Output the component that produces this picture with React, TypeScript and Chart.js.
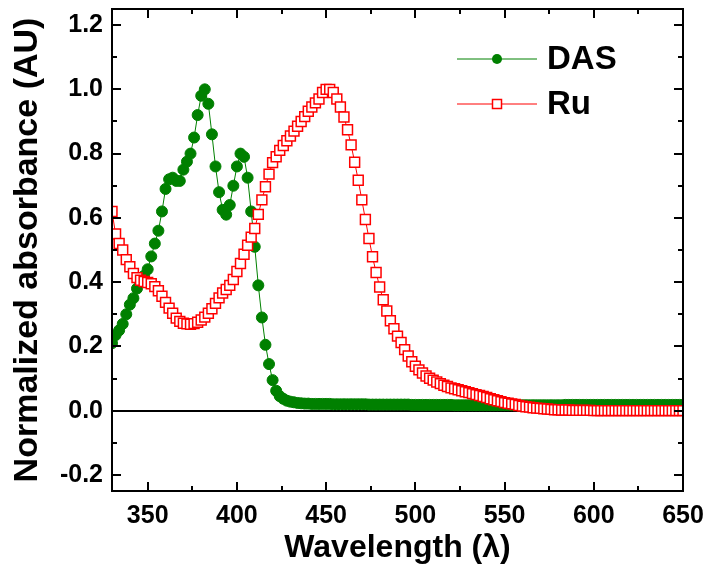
import React, { useEffect, useRef } from "react";
import { Chart, registerables } from "chart.js";

Chart.register(...registerables);

// ---- data ----
const wavelengths = [
  330, 332, 334, 336, 338, 340, 342, 344, 346, 348,
  350, 352, 354, 356, 358, 360, 362, 364, 366, 368,
  370, 372, 374, 376, 378, 380, 382, 384, 386, 388,
  390, 392, 394, 396, 398, 400, 402, 404, 406, 408,
  410, 412, 414, 416, 418, 420, 422, 424, 426, 428,
  430, 432, 434, 436, 438, 440, 442, 444, 446, 448,
  450, 452, 454, 456, 458, 460, 462, 464, 466, 468,
  470, 472, 474, 476, 478, 480, 482, 484, 486, 488,
  490, 492, 494, 496, 498, 500, 502, 504, 506, 508,
  510, 512, 514, 516, 518, 520, 522, 524, 526, 528,
  530, 532, 534, 536, 538, 540, 542, 544, 546, 548,
  550, 552, 554, 556, 558, 560, 562, 564, 566, 568,
  570, 572, 574, 576, 578, 580, 582, 584, 586, 588,
  590, 592, 594, 596, 598, 600, 602, 604, 606, 608,
  610, 612, 614, 616, 618, 620, 622, 624, 626, 628,
  630, 632, 634, 636, 638, 640, 642, 644, 646, 648,
  650,
];

const dasValues = [
  0.21, 0.235, 0.25, 0.27, 0.3, 0.33, 0.35, 0.38, 0.4, 0.42,
  0.44, 0.48, 0.52, 0.56, 0.62, 0.69, 0.72, 0.725, 0.715, 0.715,
  0.75, 0.775, 0.8, 0.85, 0.92, 0.98, 1.0, 0.955, 0.86, 0.76,
  0.68, 0.625, 0.61, 0.64, 0.7, 0.76, 0.8, 0.79, 0.725, 0.62,
  0.51, 0.39, 0.29, 0.205, 0.145, 0.095, 0.062, 0.045, 0.037, 0.031,
  0.028, 0.026, 0.024, 0.023, 0.022, 0.022, 0.021, 0.021, 0.021, 0.021,
  0.021, 0.021, 0.02, 0.02, 0.02, 0.02, 0.02, 0.02, 0.02, 0.02,
  0.02, 0.02, 0.019, 0.019, 0.019, 0.019, 0.019, 0.019, 0.019, 0.019,
  0.019, 0.019, 0.019, 0.019, 0.018, 0.018, 0.018, 0.018, 0.018, 0.018,
  0.018, 0.018, 0.018, 0.018, 0.018, 0.018, 0.017, 0.017, 0.017, 0.017,
  0.017, 0.017, 0.017, 0.017, 0.017, 0.017, 0.017, 0.017, 0.017, 0.017,
  0.017, 0.017, 0.017, 0.017, 0.017, 0.017, 0.017, 0.017, 0.017, 0.017,
  0.017, 0.017, 0.017, 0.017, 0.017, 0.017, 0.017, 0.018, 0.018, 0.018,
  0.018, 0.018, 0.018, 0.018, 0.018, 0.018, 0.018, 0.018, 0.018, 0.018,
  0.018, 0.018, 0.018, 0.018, 0.018, 0.018, 0.018, 0.018, 0.018, 0.018,
  0.018, 0.018, 0.018, 0.018, 0.018, 0.018, 0.018, 0.018, 0.018, 0.018,
  0.018,
];

const ruValues = [
  0.62, 0.55, 0.52, 0.5, 0.47, 0.448, 0.427, 0.414, 0.406, 0.402,
  0.399, 0.395, 0.386, 0.373, 0.356, 0.337, 0.319, 0.303, 0.288, 0.278,
  0.272, 0.27, 0.269, 0.271, 0.275, 0.282, 0.291, 0.303, 0.317, 0.334,
  0.351, 0.366, 0.377, 0.39, 0.408, 0.433, 0.458, 0.487, 0.515, 0.54,
  0.567, 0.611, 0.656, 0.697, 0.736, 0.772, 0.79, 0.81, 0.825, 0.84,
  0.855, 0.87, 0.885, 0.9, 0.915, 0.932, 0.945, 0.958, 0.97, 0.99,
  1.0, 1.0, 0.99, 0.97, 0.945, 0.914, 0.874, 0.827, 0.773, 0.717,
  0.656, 0.595, 0.536, 0.479, 0.43, 0.385, 0.345, 0.31, 0.28, 0.255,
  0.232, 0.212, 0.19, 0.17, 0.152, 0.138, 0.127, 0.117, 0.108, 0.101,
  0.095, 0.089, 0.084, 0.079, 0.075, 0.071, 0.068, 0.065, 0.062, 0.059,
  0.056, 0.053, 0.05, 0.047, 0.044, 0.041, 0.037, 0.034, 0.031, 0.028,
  0.025, 0.023, 0.021, 0.019, 0.016, 0.014, 0.012, 0.011, 0.009, 0.008,
  0.007, 0.006, 0.005, 0.004, 0.003, 0.003, 0.002, 0.002, 0.002, 0.001,
  0.001, 0.001, 0.001, 0.001, 0.001, 0.0, 0.0, 0.0, 0.0, 0.0,
  0.0, 0.0, 0.0, 0.0, 0.0, 0.0, 0.0, 0.0, 0.0, 0.0,
  0.0, 0.0, 0.0, 0.0, 0.0, 0.0, 0.0, 0.0, 0.0, 0.0,
  0.0,
];

const seriesNames = ["DAS", "Ru"];
const xTickValues = [350, 400, 450, 500, 550, 600, 650];
const xMinorTicks = [375, 425, 475, 525, 575, 625];
const yTickValues = [-0.2, 0.0, 0.2, 0.4, 0.6, 0.8, 1.0, 1.2];
const yMinorTicks = [-0.1, 0.1, 0.3, 0.5, 0.7, 0.9, 1.1];
const xTitle = "Wavelength (λ)";
const yTitle = "Normalized absorbance (AU)";

const FONT = "'Liberation Sans', Arial, Helvetica, sans-serif";
const GREEN = "rgb(0,128,0)";
const RED = "rgb(255,0,0)";

const framePlugin = {
  id: "frameAndLegend",
  beforeDatasetsDraw(chart: any) {
    const { ctx, chartArea, scales } = chart;
    const y0 = Math.round(scales.y.getPixelForValue(0));
    ctx.save();
    ctx.strokeStyle = "#000";
    ctx.lineWidth = 2;
    ctx.beginPath();
    ctx.moveTo(chartArea.left, y0);
    ctx.lineTo(chartArea.right, y0);
    ctx.stroke();
    ctx.restore();
  },
  afterDatasetsDraw(chart: any) {
    const { ctx, chartArea, scales } = chart;
    const { left, right, top, bottom } = chartArea;
    ctx.save();
    ctx.strokeStyle = "#000";
    ctx.lineWidth = 2;
    ctx.strokeRect(left, top, right - left, bottom - top);
    const major = 9;
    const minor = 5;
    ctx.beginPath();
    const xt = (v: number, len: number) => {
      const px = Math.round(scales.x.getPixelForValue(v));
      ctx.moveTo(px, bottom);
      ctx.lineTo(px, bottom - len);
      ctx.moveTo(px, top);
      ctx.lineTo(px, top + len);
    };
    const yt = (v: number, len: number) => {
      const py = Math.round(scales.y.getPixelForValue(v));
      ctx.moveTo(left, py);
      ctx.lineTo(left + len, py);
      ctx.moveTo(right, py);
      ctx.lineTo(right - len, py);
    };
    xTickValues.forEach((v) => xt(v, major));
    xMinorTicks.forEach((v) => xt(v, minor));
    yTickValues.forEach((v) => yt(v, major));
    yMinorTicks.forEach((v) => yt(v, minor));
    ctx.stroke();
    ctx.restore();
  },
  afterDraw(chart: any) {
    const { ctx } = chart;
    const entries = [
      { label: seriesNames[0], color: GREEN, y: 59, style: "circle" },
      { label: seriesNames[1], color: RED, y: 104, style: "rect" },
    ];
    ctx.save();
    entries.forEach((e) => {
      ctx.strokeStyle = e.color;
      ctx.lineWidth = 1;
      ctx.beginPath();
      ctx.moveTo(457, e.y);
      ctx.lineTo(537, e.y);
      ctx.stroke();
      if (e.style === "circle") {
        ctx.fillStyle = e.color;
        ctx.beginPath();
        ctx.arc(497, e.y, 5, 0, Math.PI * 2);
        ctx.fill();
      } else {
        ctx.fillStyle = "#fff";
        ctx.lineWidth = 1.5;
        ctx.fillRect(492.5, e.y - 4.5, 9, 9);
        ctx.strokeRect(492.5, e.y - 4.5, 9, 9);
      }
      ctx.fillStyle = "#000";
      ctx.font = `bold 33px ${FONT}`;
      ctx.textBaseline = "middle";
      ctx.textAlign = "left";
      ctx.fillText(e.label, 547, e.y + 1);
    });
    ctx.restore();
  },
};

export default function App() {
  const canvasRef = useRef<HTMLCanvasElement | null>(null);

  useEffect(() => {
    document.body.style.margin = "0";
    const canvas = canvasRef.current;
    if (!canvas) return;
    const rows = (vals: number[]) => wavelengths.map((w, i) => ({ x: w, y: vals[i] }));
    const chart = new Chart(canvas, {
      type: "line",
      data: {
        datasets: [
          {
            label: seriesNames[1],
            data: rows(ruValues),
            borderColor: RED,
            borderWidth: 1,
            pointStyle: "rect",
            pointRadius: 7,
            pointBackgroundColor: "#fff",
            pointBorderColor: RED,
            pointBorderWidth: 1.5,
            tension: 0,
            clip: 0,
          },
          {
            label: seriesNames[0],
            data: rows(dasValues),
            borderColor: GREEN,
            borderWidth: 1,
            pointStyle: "circle",
            pointRadius: 5.5,
            pointBackgroundColor: GREEN,
            pointBorderColor: GREEN,
            pointBorderWidth: 1,
            tension: 0,
            clip: 0,
          },
        ],
      },
      options: {
        animation: false,
        responsive: true,
        maintainAspectRatio: false,
        layout: { padding: { left: 0, right: 26, top: 9, bottom: 0 } },
        plugins: { legend: { display: false }, tooltip: { enabled: false } },
        scales: {
          x: {
            type: "linear",
            min: 330,
            max: 650,
            afterBuildTicks: (s: any) => {
              s.ticks = xTickValues.map((v) => ({ value: v }));
            },
            afterFit: (s: any) => {
              s.height = 84;
              s.paddingLeft = 0;
              s.paddingRight = 0;
            },
            grid: { display: false, drawTicks: false },
            border: { display: false },
            ticks: {
              autoSkip: false,
              maxRotation: 0,
              padding: 10,
              color: "#000",
              font: { family: FONT, size: 25, weight: "bold" },
              callback: (v: any) => String(v),
            },
            title: {
              display: true,
              text: xTitle,
              color: "#000",
              font: { family: FONT, size: 32, weight: "bold" },
              padding: { top: 0, bottom: 8 },
            },
          },
          y: {
            type: "linear",
            min: -0.25,
            max: 1.25,
            afterBuildTicks: (s: any) => {
              s.ticks = yTickValues.map((v) => ({ value: v }));
            },
            afterFit: (s: any) => {
              s.width = 112;
              s.paddingTop = 0;
              s.paddingBottom = 0;
            },
            grid: { display: false, drawTicks: false },
            border: { display: false },
            ticks: {
              autoSkip: false,
              padding: 9,
              color: "#000",
              font: { family: FONT, size: 25, weight: "bold" },
              callback: (v: any) => Number(v).toFixed(1),
            },
            title: {
              display: true,
              text: yTitle,
              color: "#000",
              font: { family: FONT, size: 34, weight: "bold" },
              padding: { top: 7, bottom: 0 },
            },
          },
        },
      },
      plugins: [framePlugin],
    } as any);
    return () => chart.destroy();
  }, []);

  return (
    <div style={{ position: "relative", width: 709, height: 575 }}>
      <canvas ref={canvasRef} />
    </div>
  );
}
